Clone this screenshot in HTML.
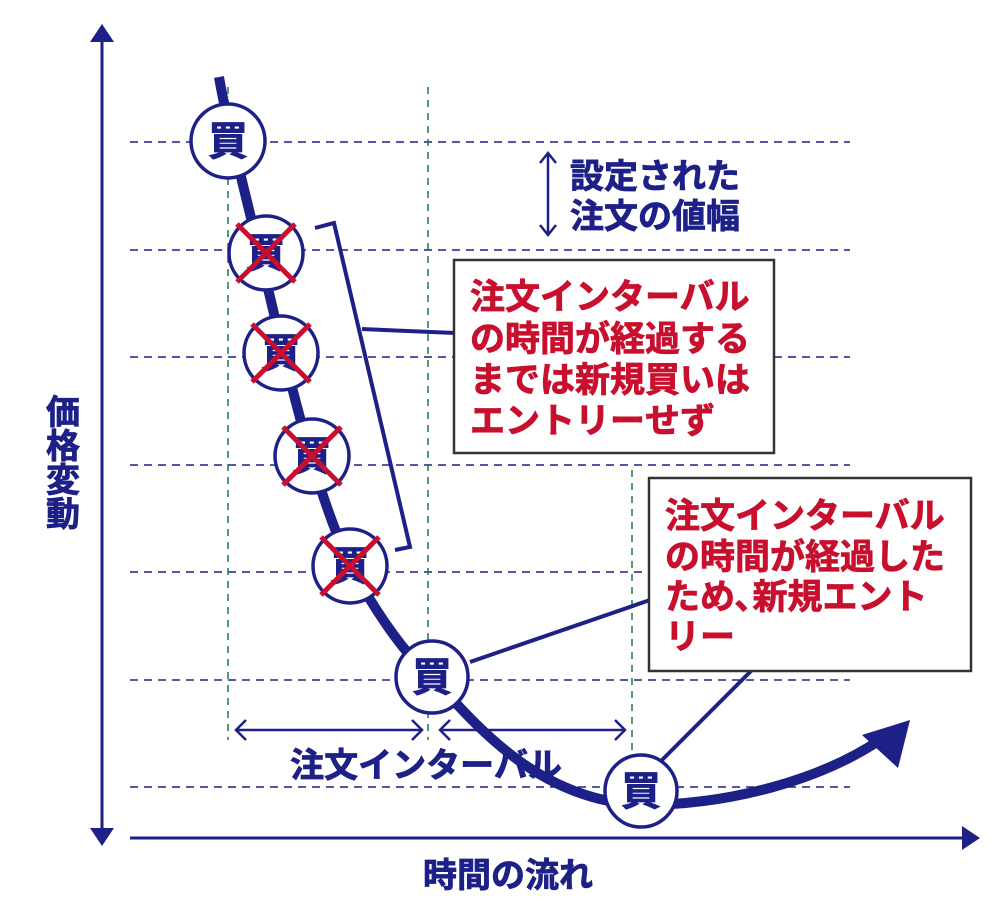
<!DOCTYPE html>
<html><head><meta charset="utf-8"><style>
html,body{margin:0;padding:0;background:#fff;}
svg{display:block;font-family:"Liberation Sans","Noto Sans CJK JP",sans-serif;font-weight:bold;}
</style></head><body>
<svg width="1000" height="903" viewBox="0 0 1000 903" xmlns="http://www.w3.org/2000/svg">
<g stroke="#1d2087" stroke-width="1.5" stroke-dasharray="8 6">
<line x1="130" y1="142" x2="850" y2="142"/>
<line x1="130" y1="250" x2="850" y2="250"/>
<line x1="130" y1="357" x2="850" y2="357"/>
<line x1="130" y1="465" x2="850" y2="465"/>
<line x1="130" y1="572" x2="850" y2="572"/>
<line x1="130" y1="680" x2="850" y2="680"/>
<line x1="130" y1="787" x2="850" y2="787"/>
</g>
<g stroke="#1a7a4a" stroke-width="1.5" stroke-dasharray="7 6">
<line x1="228" y1="87" x2="228" y2="740"/>
<line x1="428" y1="87" x2="428" y2="740"/>
<line x1="632" y1="470" x2="632" y2="752"/>
</g>
<g stroke="#1d2087" stroke-width="3" fill="#1d2087">
<line x1="102" y1="40" x2="102" y2="830"/>
<line x1="130" y1="838" x2="965" y2="838"/>
</g>
<polygon points="102,24 90,42 114,42" fill="#1d2087"/>
<polygon points="102,846 90,828 114,828" fill="#1d2087"/>
<polygon points="980,838 962,826 962,850" fill="#1d2087"/>
<path d="M219,77 C228,130 255,230 280,340 C300,420 320,500 350,565 C380,620 410,660 432,677 C480,730 540,800 641,805 C730,805 820,780 880,740" fill="none" stroke="#1d2087" stroke-width="10"/>
<polygon points="910,720 862,735 898,768" fill="#1d2087"/>
<polyline points="315,228 334,223 410,547 395,550" fill="none" stroke="#1d2087" stroke-width="4"/>
<line x1="362" y1="329" x2="455" y2="333" stroke="#1d2087" stroke-width="4"/>
<line x1="470" y1="662" x2="650" y2="600" stroke="#1d2087" stroke-width="4"/>
<line x1="752" y1="670" x2="662" y2="760" stroke="#1d2087" stroke-width="4"/>
<g fill="#fff" stroke="#1d2087" stroke-width="3.5">
<circle cx="228" cy="141" r="37"/>
<circle cx="266" cy="253" r="37"/>
<circle cx="281" cy="353" r="37"/>
<circle cx="312" cy="456" r="37"/>
<circle cx="350" cy="566" r="37"/>
<circle cx="432" cy="677" r="36"/>
<circle cx="641" cy="791" r="36"/>
</g>
<g fill="#1d2087" font-size="40" text-anchor="middle" stroke="#1d2087" stroke-width="0.8">
<text x="228" y="155">買</text>
<text x="266" y="267">買</text>
<text x="281" y="367">買</text>
<text x="312" y="470">買</text>
<text x="350" y="580">買</text>
<text x="432" y="691">買</text>
<text x="641" y="805">買</text>
</g>
<g stroke="#c8102e" stroke-width="5">
<line x1="237" y1="224" x2="295" y2="282"/><line x1="295" y1="224" x2="237" y2="282"/>
<line x1="252" y1="324" x2="310" y2="382"/><line x1="310" y1="324" x2="252" y2="382"/>
<line x1="283" y1="427" x2="341" y2="485"/><line x1="341" y1="427" x2="283" y2="485"/>
<line x1="321" y1="537" x2="379" y2="595"/><line x1="379" y1="537" x2="321" y2="595"/>
</g>
<g stroke="#1d2087" stroke-width="2.5" fill="none">
<line x1="236" y1="730" x2="422" y2="730"/>
<polyline points="246,720 236,730 246,740"/><polyline points="412,720 422,730 412,740"/>
<line x1="440" y1="730" x2="625" y2="730"/>
<polyline points="450,720 440,730 450,740"/><polyline points="615,720 625,730 615,740"/>
<line x1="548" y1="155" x2="548" y2="233"/>
<polyline points="540,163 548,153 556,163"/><polyline points="540,225 548,235 556,225"/>
</g>
<g fill="#1d2087" stroke="#1d2087" stroke-width="0.8">
<text x="426" y="777" font-size="34" text-anchor="middle">注文インターバル</text>
<text x="570" y="188" font-size="34">設定された</text>
<text x="570" y="228" font-size="34">注文の値幅</text>
<text x="508" y="887" font-size="34" text-anchor="middle">時間の流れ</text>
</g>
<g font-size="34" fill="#1d2087" text-anchor="middle" stroke="#1d2087" stroke-width="0.8">
<text x="63" y="424">価</text><text x="63" y="458">格</text><text x="63" y="492">変</text><text x="63" y="526">動</text>
</g>
<rect x="454" y="260" width="320" height="193" fill="#fff" stroke="#333" stroke-width="2.5"/>
<g font-size="35" fill="#c8102e" stroke="#c8102e" stroke-width="0.8">
<text x="470" y="309">注文インターバル</text>
<text x="470" y="351">の時間が経過する</text>
<text x="470" y="392">までは新規買いは</text>
<text x="470" y="433">エントリーせず</text>
</g>
<rect x="649" y="478" width="322" height="193" fill="#fff" stroke="#333" stroke-width="2.5"/>
<g font-size="35" fill="#c8102e" stroke="#c8102e" stroke-width="0.8">
<text x="665" y="528">注文インターバル</text>
<text x="665" y="569">の時間が経過した</text>
<text x="665" y="609">ため､新規エント</text>
<text x="665" y="649">リー</text>
</g>
</svg>
</body></html>
